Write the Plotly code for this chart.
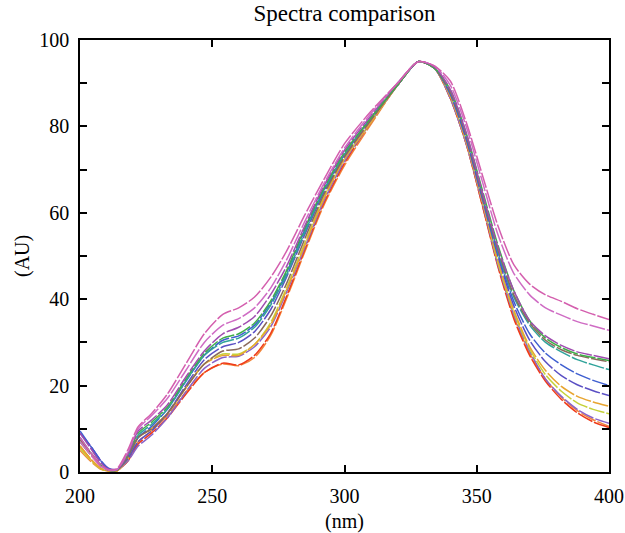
import plotly.graph_objects as go

# wavelength grid (nm) shared by all spectra
wavelength = [200, 204, 208, 211, 214, 218, 222, 227, 233, 240, 247,
              254, 260, 266, 272, 278, 285, 292, 300, 310,
              320, 328, 334,
              340, 346, 352, 358, 364, 370, 376, 382, 388, 394, 400]

# absorbance (AU)
pink_a = [8, 4.5, 1.5, 0.5, 0.8, 5, 10.5, 13.5, 18, 25, 32,
          36.5, 38, 40.5, 45, 51, 59.5, 67.5, 76, 83.5,
          90, 95, 94,
          90.5, 81, 69, 57, 48, 43.5, 41, 39.5, 37.8, 36.5, 35.3]
pink_b = [7, 4, 1.2, 0.4, 0.6, 4.5, 10, 13, 17, 23.5, 30,
          34, 35.5, 38, 42.5, 49, 58, 66.5, 75, 83,
          90, 95, 94,
          89.5, 80, 67.5, 55, 46, 41, 38, 36.3, 34.8, 33.8, 32.8]
magenta = [9, 5.5, 2, 0.5, 0.5, 4, 9.5, 12, 15.5, 22, 28,
           32, 33.5, 36, 41, 47.5, 57, 66, 74.5, 82.5,
           90, 95, 93.8,
           88.5, 78.5, 65, 52, 42, 35, 31.5, 29.3, 27.8, 27, 26.2]
green = [7, 4, 1.5, 0.4, 0.5, 4, 9, 11.5, 15, 21.5, 27.5,
         31, 32, 34.5, 39.5, 46.5, 56.5, 65.5, 74, 82,
         89.5, 95, 93.5,
         88.5, 78.5, 65.5, 52.5, 42, 35, 31, 28.8, 27.3, 26.5, 25.8]
brown = [7.5, 4.5, 1.5, 0.4, 0.4, 3.5, 8, 10, 13.5, 19.5, 25,
         28, 28.5, 31, 36, 43.5, 54, 64, 73, 81.5,
         89.5, 95, 93.5,
         88, 78, 64.5, 51.5, 41, 34.5, 30.5, 28.3, 27, 26.2, 25.5]
teal = [8, 4.5, 1.5, 0.4, 0.5, 3.5, 8.5, 11, 14.5, 21, 27,
        30, 31, 33.5, 38.5, 45.5, 55.5, 65, 73.5, 82,
        89.5, 95, 93.5,
        88, 78, 64.5, 51, 40.5, 34, 30, 27.8, 26, 24.8, 23.7]
blue = [9.5, 6, 2.5, 0.6, 0.5, 3.5, 8, 10.5, 14.5, 21, 27,
        30.5, 31.5, 34, 39, 46, 56, 65, 73.5, 82,
        89.5, 95, 93.5,
        87.5, 77.5, 64, 50.5, 39.5, 32, 27.5, 24.8, 22.7, 21.2, 20]
indigo = [9, 6, 2.5, 0.7, 0.5, 3, 7, 9.5, 13.5, 20, 26,
          29, 30, 32.5, 37.5, 45, 55, 64.5, 73, 81.5,
          89.5, 95, 93.5,
          87.5, 77, 63.5, 50, 38.5, 30.5, 25.5, 22.3, 20.2, 18.8, 17.7]
gold = [6, 3, 0.8, 0.2, 0.3, 3, 8, 10, 13.5, 19.5, 25,
        27, 27, 29.5, 34, 42, 52.5, 63, 72.5, 81,
        89.5, 95, 93.5,
        87, 76.5, 63, 49, 37.5, 29, 23.5, 19.8, 17.5, 16.2, 15.2]
lime = [5.5, 2.8, 0.7, 0.2, 0.3, 3, 8, 10, 13.5, 19.5, 25,
        27.3, 27.3, 29.5, 34.5, 42.5, 53, 63.5, 72.5, 81,
        89.5, 95, 93.5,
        87, 76.5, 63, 48.5, 37, 28.5, 22.5, 18.7, 16, 14.5, 13.5]
violet = [9, 6, 2.5, 0.8, 0.6, 2.5, 6, 8.5, 12.5, 18.5, 24,
          26.5, 26.8, 29, 33.5, 41.5, 52, 62.5, 72, 81,
          89.5, 95, 93.5,
          86.5, 76, 62.5, 48, 36.5, 28, 21.5, 17.5, 14.5, 12.5, 11.3]
red = [6, 3, 0.8, 0.2, 0.3, 2.5, 6.5, 9, 12.5, 18, 23,
       25.2, 24.8, 27, 32, 40.5, 51.5, 62, 71.5, 81,
       89.5, 95, 93.5,
       86.5, 76, 62, 47.5, 35.5, 27, 21, 16.8, 13.7, 11.6, 10.3]
orange = [5, 2.5, 0.6, 0.2, 0.3, 2.5, 7, 9.5, 13, 18.5, 23,
          25, 24.6, 26.5, 31.5, 40, 51, 61.5, 71, 80.5,
          89.5, 95, 93.5,
          86.5, 76, 62, 48, 36, 27.5, 21.5, 17.3, 14.2, 12.1, 10.6]

spectra = [
    (orange, '#f2853a'),
    (red, '#ef3a1a'),
    (violet, '#8a63c8'),
    (lime, '#c5d23a'),
    (gold, '#e8a530'),
    (indigo, '#5a4fc4'),
    (blue, '#3f5fd0'),
    (teal, '#2fa39a'),
    (brown, '#8a6a5a'),
    (green, '#3fae49'),
    (magenta, '#a04cb0'),
    (pink_b, '#cf6cc4'),
    (pink_a, '#d45fae'),
]

fig = go.Figure()
for vals, col in spectra:
    fig.add_trace(go.Scatter(x=wavelength, y=vals, mode='lines',
                             line=dict(color=col, width=1.5, shape='spline',
                                       smoothing=0.7, dash='16px,2px'),
                             showlegend=False))

font = 'Liberation Serif, DejaVu Serif, serif'
fig.update_layout(
    width=625, height=533,
    margin=dict(l=80, r=16, t=40, b=61),
    paper_bgcolor='white', plot_bgcolor='white',
    font=dict(family=font, size=20, color='black'),
    title=dict(text='Spectra comparison', x=0.5, xref='paper', xanchor='center',
               y=0.976, yref='container', yanchor='middle',
               font=dict(size=23)),
)
fig.update_xaxes(range=[200, 400], tickvals=[200, 250, 300, 350, 400],
                 showline=True, linecolor='black', linewidth=1.5, mirror='ticks',
                 ticks='inside', ticklen=7, tickwidth=1.5, tickcolor='black',
                 ticklabelstandoff=5, automargin=False,
                 showgrid=False, zeroline=False)
fig.update_yaxes(range=[0, 100], tickvals=[0, 20, 40, 60, 80, 100],
                 showline=True, linecolor='black', linewidth=1.5, mirror='ticks',
                 ticks='inside', ticklen=7, tickwidth=1.5, tickcolor='black',
                 minor=dict(dtick=10, ticks='inside', ticklen=7, tickcolor='black'),
                 ticklabelstandoff=5, automargin=False,
                 showgrid=False, zeroline=False)

fig.add_annotation(text='(nm)', x=0.5, xref='paper', y=-0.1146, yref='paper',
                   xanchor='center', yanchor='middle', showarrow=False)
fig.add_annotation(text='(AU)', x=-0.1096, xref='paper', y=0.5, yref='paper',
                   xanchor='center', yanchor='middle', textangle=-90, showarrow=False)

# drop the default page margin so the figure fills the window exactly
fig.write_html("out.html",
               config={'displayModeBar': False},
               post_script="document.body.style.margin='0';"
                           "document.body.style.overflow='hidden';")
